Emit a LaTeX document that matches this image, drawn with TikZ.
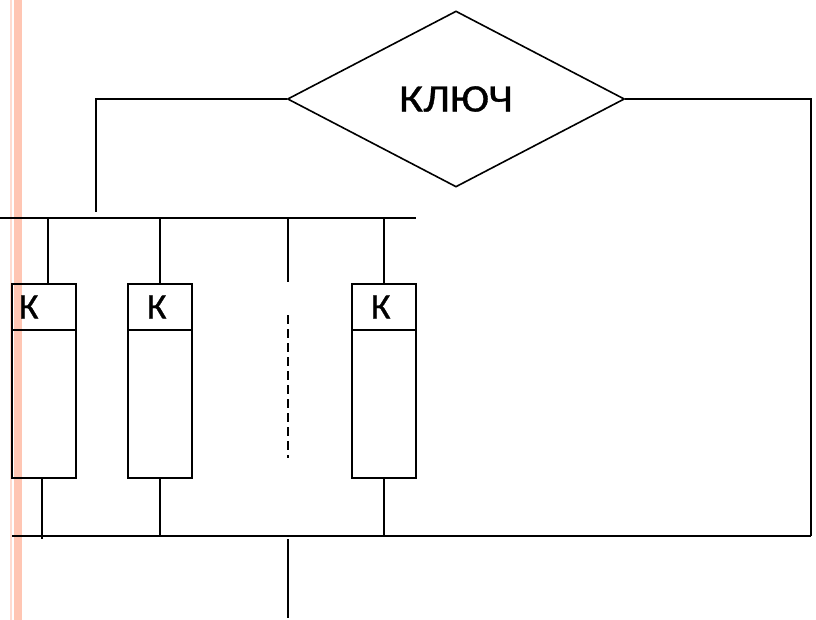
\documentclass[tikz,border=0pt]{standalone}
\usepackage{fontspec}
\setmainfont{Carlito}[FakeBold=0.8]
\usetikzlibrary{shapes.geometric,positioning}
\definecolor{stripe}{HTML}{FFC6B3}
\definecolor{stripelight}{HTML}{FFDCD0}

\begin{document}
\begin{tikzpicture}[
    x=1pt, y=-1pt,
    line/.style={line width=2.4pt},
    key/.style={draw, diamond, line width=1.6pt, aspect=1.915, minimum width=337pt, minimum height=176pt, inner sep=0pt, font=\fontsize{39}{42}\selectfont},
    khead/.style={draw, line width=2.4pt, outer sep=0pt, minimum height=46pt, text width=26pt, inner xsep=19pt, inner ysep=0pt, align=left, font=\fontsize{36}{40}\selectfont},
    kbody/.style={draw, line width=2.4pt, outer sep=0pt, minimum width=64pt, minimum height=148pt, inner sep=0pt}
]
\useasboundingbox (0,0) rectangle (816,620);
\fill[stripelight] (10,0) rectangle (12,620);
\fill[stripe] (13.5,0) rectangle (22,620);

\node[key] (key) at (456,99) {\scalebox{1.13}[1]{КЛЮЧ}};

\node[khead, text width=50pt, inner xsep=7pt] (k1) at (44,307) {К};
\node[kbody, below=0pt of k1] (b1) {};
\node[khead] (k2) at (160,307) {К};
\node[kbody, below=0pt of k2] (b2) {};
\node[khead] (k3) at (384,307) {К};
\node[kbody, below=0pt of k3] (b3) {};

\coordinate (tl) at (0,218);
\coordinate (tr) at (416,218);
\coordinate (fb) at (96,212);
\coordinate (bl) at (12,536);
\coordinate (br) at (811,536);
\coordinate (gap) at (288,282);
\coordinate (dtop) at (288,315);
\coordinate (dbot) at (288,458);
\coordinate (out) at (288,618);

\draw[line] (tl) -- (tr);
\draw[line] (key.west) -| (fb);
\draw[line] (key.east) -| (br);
\draw[line] (bl) -- (br);

\draw[line] ([xshift=4pt]k1.north |- tl) -- ([xshift=4pt]k1.north);
\draw[line] (k2.north |- tl) -- (k2.north);
\draw[line] (k3.north |- tl) -- (k3.north);
\draw[line] (gap |- tl) -- (gap);
\draw[line, dash pattern=on 9pt off 5pt] (dtop) -- (dbot);

\draw[line] ([xshift=-2pt]b1.south) -- ([xshift=-2pt,yshift=-3pt]b1.south |- bl);
\draw[line] (b2.south) -- (b2.south |- bl);
\draw[line] (b3.south) -- (b3.south |- bl);
\draw[line] ([yshift=-3pt]out |- bl) -- (out);
\end{tikzpicture}
\end{document}
